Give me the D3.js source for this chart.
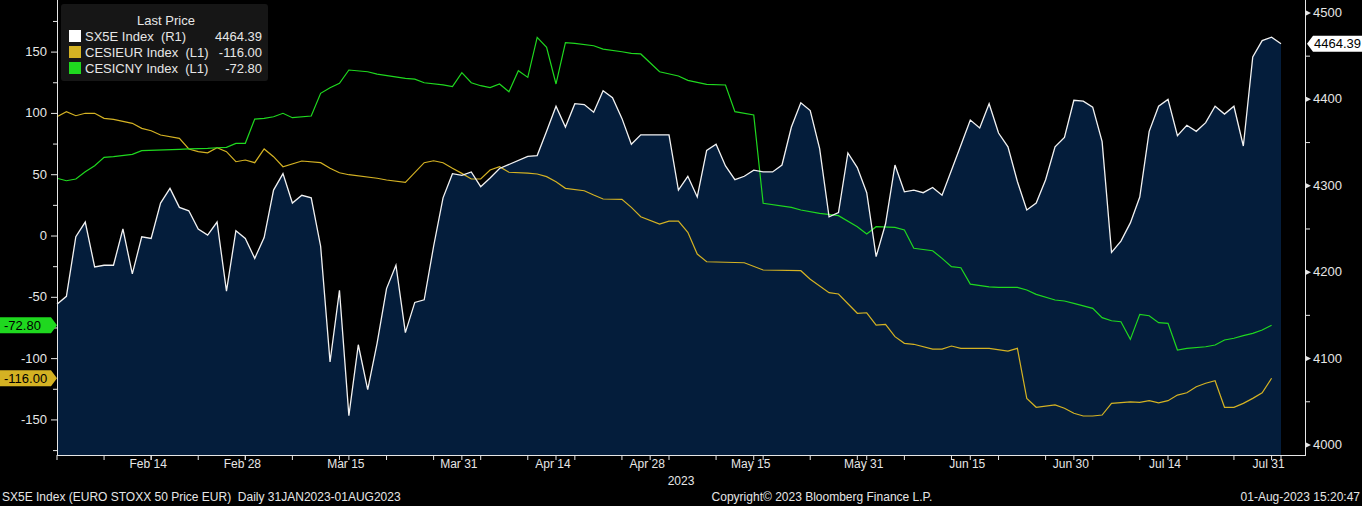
<!DOCTYPE html>
<html>
<head>
<meta charset="utf-8">
<script src="https://cdn.jsdelivr.net/npm/d3@7"></script>
<style>
  body { margin: 0; background: #000; }
  text { font-family: "Liberation Sans Narrow", "Liberation Sans", Arial, sans-serif; }
</style>
</head>
<body>
<div id="chart"></div>
<script>
// weekdays from 31 Jan to 1 Aug 2023, market holidays leave an empty slot
var startDay = new Date(2023, 0, 31), endDay = new Date(2023, 7, 1)
var holidays = ["2023-04-07", "2023-04-10", "2023-05-01"]

// SX5E close for each trading day (right axis)
var sx5e = [4163,4172,4241,4258,4206,4208,4208,4250,4198,4241,4239,4280,4297,4275,4271,4250,4243,4258,4178,4248,
  4239,4216,4240,4295,4314,4280,4289,4286,4230,4096,4179,4034,4116,4064,
  4118,4181,4208,4130,4165,4168,4230,4286,4314,4312,4316,4299,4309,4320,4334,4335,4363,4392,4368,4395,4394,4385,
  4410,4402,4378,4348,4359,4359,4359,4295,4311,4287,
  4341,4348,4323,4307,4311,4318,4316,4316,4324,4368,4396,4387,4343,4264,4269,4338,4321,4292,4218,4256,4324,4293,
  4295,4292,4298,4289,4318,4347,4376,4367,4395,4361,4345,
  4305,4272,4280,4307,4345,4356,4399,4398,4391,4351,4223,4236,4257,4287,4363,4392,4400,4358,4370,4363,4373,4392,
  4383,4392,4346,4449,4468,4472,4464.39]

// CESIEUR (left axis): weekday slot, value
var eurSlot = [0,1,2,3,4,5,6,8,9,10,11,13,14,15,16,17,18,19,20,21,22,23,24,26,28,29,30,31,34,35,37,39,40,41,42,43,44,45,46,47,48,50,
  51,52,53,54,56,57,58,60,61,62,64,65,66,67,68,69,73,75,79,80,82,83,85,86,87,88,89,90,91,93,94,95,96,99,101,102,103,104,
  106,107,108,109,110,111,112,114,115,116,117,118,119,120,121,122,123,124,125,126,127,128,129]
var eurVal = [97.3,101.4,98.1,100.1,100.1,96,95.2,91.9,87.8,85.9,82.4,79.7,71,68.8,67.9,72,68.8,60.6,62,59.8,71,64.7,56.5,
  61.2,59.8,55.2,51.6,50,47.1,45.7,43.8,59.8,61.4,59.8,55.2,51.1,46.5,46.5,53.8,56.5,52,51.3,
  50.6,48.4,44.3,38.9,36.9,33.4,30.2,29.9,23.4,15.7,9.8,12.2,12.2,3,-14.7,-21,-21.8,-27.7,-28.3,-35.3,-46.2,-47.3,-63,
  -62.6,-72.6,-72,-82.1,-87.5,-88.3,-92.2,-92.2,-89.7,-91.6,-91.6,-93.8,-91.6,-132.4,-139.7,
  -137.8,-140.5,-144.6,-146.8,-146.8,-146,-136.5,-135.2,-135.6,-134.3,-136,-134.3,-129.7,-127.8,-122.9,-120.1,-118,
  -139.7,-139.7,-136.5,-132.4,-127.8,-116]

// CESICNY (left axis): weekday slot, value
var cnySlot = [0,1,2,3,4,5,6,8,9,13,14,16,17,18,19,20,21,22,23,24,25,27,28,29,30,31,33,34,37,38,39,41,42,43,44,45,46,47,48,
  49,50,51,52,53,54,55,57,58,60,61,62,64,66,67,69,71,72,74,75,78,79,81,83,85,86,87,89,90,91,93,94,95,96,97,99,100,
  102,103,104,106,107,108,110,111,112,113,114,115,116,117,118,119,120,122,123,124,125,126,127,128,129]
var cnyVal = [47.1,45.1,46.5,52.4,57.3,64.2,64.7,66.6,69.6,70.7,71,71.5,72,72.3,75.6,75.6,95.4,96,97.3,100.1,96.5,97.9,
  116.4,121,124.5,135.4,134,132.1,128.6,128,125,123.2,121.8,133.2,125,122.6,121,124,117.7,
  134.8,129.4,162,153.9,124,157.7,157.2,155.2,152.5,150.3,149,148.5,134,130.5,127,123.7,123.2,101.4,98.7,26.7,23.4,
  21.2,18.5,16.6,7.6,1.6,7.6,7.1,4.9,-10,-12,-18.2,-25,-25.9,-39.2,-41.4,-41.9,
  -41.9,-44,-47.6,-52.2,-53,-54.9,-59,-66.6,-69.1,-69.9,-84.3,-63.9,-65,-70.7,-71.2,-93,-91.6,-90.3,-88.9,-84.8,
  -83.4,-81.3,-79.4,-76.7,-72.8]

var xTickLabels = ["Feb 14","Feb 28","Mar 15","Mar 31","Apr 14","Apr 28","May 15","May 31","Jun 15","Jun 30","Jul 14","Jul 31"]
var leftTicks = [150, 100, 50, 0, -50, -100, -150]
var rightTicks = [4000, 4100, 4200, 4300, 4400, 4500]

var W = 1362, H = 506
var fmt = d3.timeFormat("%Y-%m-%d")
var slots = []   // every weekday
for (var d = new Date(startDay); d <= endDay; d.setDate(d.getDate() + 1)) {
  if (d.getDay() != 0 && d.getDay() != 6) slots.push(new Date(d))
}
var tradingSlots = []
slots.forEach(function (d, i) { if (holidays.indexOf(fmt(d)) < 0) tradingSlots.push(i) })

var x = d3.scaleLinear().domain([0, slots.length - 1]).range([57, 1281])
var yL = d3.scaleLinear().domain([-178.6, 192.5]).range([455, 0])
var yR = d3.scaleLinear().domain([3988.4, 4515]).range([455, 0])

var svg = d3.select("#chart").append("svg").attr("width", W).attr("height", H)
svg.append("rect").attr("width", W).attr("height", H).attr("fill", "#000")

var sxData = sx5e.map(function (v, i) { return {s: tradingSlots[i], v: v} })
svg.append("path").datum(sxData)
  .attr("fill", "#041d3b")
  .attr("d", d3.area().x(function (d) { return x(d.s) }).y0(455).y1(function (d) { return yR(d.v) }))

var eurData = eurSlot.map(function (s, i) { return {s: s, v: eurVal[i]} })
var cnyData = cnySlot.map(function (s, i) { return {s: s, v: cnyVal[i]} })
var lineL = d3.line().x(function (d) { return x(d.s) }).y(function (d) { return yL(d.v) })
svg.append("path").datum(eurData).attr("fill", "none").attr("stroke", "#d4b223").attr("stroke-width", 1.2).attr("d", lineL)
svg.append("path").datum(cnyData).attr("fill", "none").attr("stroke", "#1fd81f").attr("stroke-width", 1.2).attr("d", lineL)
svg.append("path").datum(sxData).attr("fill", "none").attr("stroke", "#f2f2f2").attr("stroke-width", 1.3)
  .attr("d", d3.line().x(function (d) { return x(d.s) }).y(function (d) { return yR(d.v) }))

// axes
var axisCol = "#e6e6e6"
svg.append("line").attr("x1", 57.5).attr("x2", 57.5).attr("y1", 0).attr("y2", 456).attr("stroke", axisCol)
svg.append("line").attr("x1", 1305.5).attr("x2", 1305.5).attr("y1", 0).attr("y2", 456).attr("stroke", axisCol)
svg.append("line").attr("x1", 57).attr("x2", 1306).attr("y1", 455.5).attr("y2", 455.5).attr("stroke", axisCol)

d3.range(-175, 200, 25).forEach(function (v) {
  var major = v % 50 == 0
  svg.append("line").attr("x1", major ? 51 : 53).attr("x2", 57).attr("y1", yL(v)).attr("y2", yL(v)).attr("stroke", axisCol)
})
leftTicks.forEach(function (v) {
  svg.append("text").attr("x", 47).attr("y", yL(v) + 4).attr("text-anchor", "end")
    .attr("fill", "#e6e6e6").style("font-size", "13px").text(v)
})
d3.range(4000, 4550, 50).forEach(function (v) {
  if (v % 100 == 0) {
    svg.append("path").attr("d", "M1306," + (yR(v) - 2.5) + "L1311," + yR(v) + "L1306," + (yR(v) + 2.5) + "Z").attr("fill", axisCol)
  } else {
    svg.append("line").attr("x1", 1306).attr("x2", 1310).attr("y1", yR(v)).attr("y2", yR(v)).attr("stroke", axisCol)
  }
})
rightTicks.forEach(function (v) {
  svg.append("text").attr("x", 1313).attr("y", yR(v) + 4).attr("fill", "#e6e6e6").style("font-size", "13px").text(v)
})

// x ticks
var tickSlots = xTickLabels.map(function (lab) {
  var p = d3.timeParse("%b %d %Y")(lab + " 2023")
  return slots.findIndex(function (d) { return fmt(d) == fmt(p) })
})
d3.range(0, slots.length, 5).forEach(function (s) {
  svg.append("line").attr("x1", x(s)).attr("x2", x(s)).attr("y1", 455).attr("y2", 460).attr("stroke", axisCol)
})
tickSlots.forEach(function (s, i) {
  svg.append("line").attr("x1", x(s)).attr("x2", x(s)).attr("y1", 455).attr("y2", 460).attr("stroke", axisCol)
  svg.append("text").attr("x", x(s) - 3).attr("y", 468).attr("text-anchor", "middle")
    .attr("fill", "#e6e6e6").style("font-size", "12px").text(xTickLabels[i])
})
svg.append("text").attr("x", 681).attr("y", 485).attr("text-anchor", "middle").attr("fill", "#e6e6e6").style("font-size", "12px").text("2023")

// last-value tags
function leftTag(v, col, label) {
  var yy = yL(v)
  svg.append("path").attr("d", "M0," + (yy - 8) + "L51," + (yy - 8) + "L57," + yy + "L51," + (yy + 8) + "L0," + (yy + 8) + "Z").attr("fill", col)
  svg.append("text").attr("x", 4).attr("y", yy + 4.5).attr("fill", "#000").style("font-size", "13px").text(label)
}
leftTag(cnyVal[cnyVal.length - 1], "#1fd81f", "-72.80")
leftTag(eurVal[eurVal.length - 1], "#d4b223", "-116.00")
var ly = yR(sx5e[sx5e.length - 1])
svg.append("path").attr("d", "M1307," + ly + "L1313," + (ly - 8) + "L1362," + (ly - 8) + "L1362," + (ly + 8) + "L1313," + (ly + 8) + "Z").attr("fill", "#fff")
svg.append("text").attr("x", 1314).attr("y", ly + 4.5).attr("fill", "#000").style("font-size", "13px").text("4464.39")

// legend
var lg = svg.append("g")
lg.append("rect").attr("x", 61).attr("y", 4).attr("width", 207).attr("height", 77).attr("rx", 3).attr("fill", "#161616")
lg.append("text").attr("x", 166).attr("y", 25).attr("text-anchor", "middle").attr("fill", "#e6e6e6").style("font-size", "13px").text("Last Price")
var legRows = [["SX5E Index  (R1)", "4464.39", "#ffffff"], ["CESIEUR Index  (L1)", "-116.00", "#d4b223"], ["CESICNY Index  (L1)", "-72.80", "#1fd81f"]]
legRows.forEach(function (r, i) {
  var yy = 41 + i * 16
  lg.append("rect").attr("x", 69).attr("y", yy - 11).attr("width", 12).attr("height", 12).attr("fill", r[2])
  lg.append("text").attr("x", 85).attr("y", yy).attr("fill", "#e6e6e6").style("font-size", "13px").style("white-space", "pre").text(r[0])
  lg.append("text").attr("x", 262).attr("y", yy).attr("text-anchor", "end").attr("fill", "#e6e6e6").style("font-size", "13px").text(r[1])
})

// footer
svg.append("text").attr("x", 2).attr("y", 501).attr("fill", "#e6e6e6").style("font-size", "12px").style("white-space", "pre")
  .text("SX5E Index (EURO STOXX 50 Price EUR)  Daily 31JAN2023-01AUG2023")
svg.append("text").attr("x", 822).attr("y", 501).attr("text-anchor", "middle").attr("fill", "#e6e6e6").style("font-size", "12px")
  .text("Copyright© 2023 Bloomberg Finance L.P.")
svg.append("text").attr("x", 1360).attr("y", 501).attr("text-anchor", "end").attr("fill", "#e6e6e6").style("font-size", "12px")
  .text("01-Aug-2023 15:20:47")
</script>
</body>
</html>
